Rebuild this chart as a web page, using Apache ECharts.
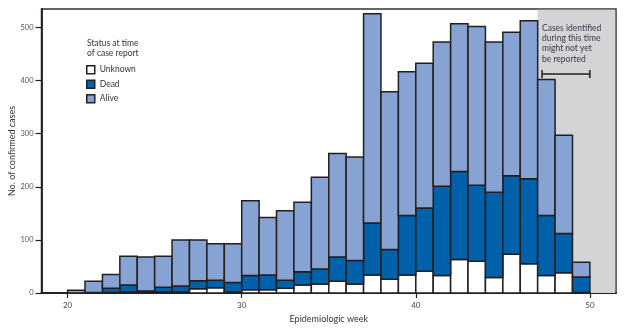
<!DOCTYPE html>
<html>
<head>
<meta charset="utf-8">
<script src="https://cdn.jsdelivr.net/npm/echarts@6/dist/echarts.min.js"></script>
<style>html,body{margin:0;padding:0;background:#fff}#c{width:635px;height:332px}</style>
</head>
<body>
<div id="c"></div>
<script>
// Epidemiologic weeks (each bar spans [week, week+1])
const weeks   = [20,21,22,23,24,25,26,27,28,29,30,31,32,33,34,35,36,37,38,39,40,41,42,43,44,45,46,47,48,49];
const unknown = [0, 0, 1, 2, 1, 2, 2, 8, 10, 2, 6, 6, 9, 15, 17, 22, 17, 34, 26, 34, 41, 33, 63, 60, 29, 73, 55, 33, 38, 1];
const dead    = [0, 1, 8, 13, 3, 9, 11, 15, 14, 18, 27, 28, 15, 25, 28, 46, 44, 98, 56, 112, 119, 168, 166, 143, 161, 148, 160, 113, 74, 29];
const alive   = [5, 21, 26, 54, 64, 58, 87, 77, 69, 73, 141, 108, 131, 131, 173, 195, 195, 394, 297, 271, 273, 272, 278, 299, 283, 270, 298, 256, 185, 28];
const xTicks  = [20, 30, 40, 50];
const yTicks  = [0, 100, 200, 300, 400, 500];
const shadeFrom = 47;      // cases might not yet be reported from this week
const bracketTo = 50;

const xMin = 18.5, xMax = 51.5, yMax = 535;
const ink = '#231f20';
const FONT = 'Lato';

function stackData(base, vals) {
  return weeks.map((w, i) => [w, base[i], base[i] + vals[i]]);
}
const base0 = weeks.map(() => 0);
const base1 = unknown.slice();
const base2 = unknown.map((u, i) => u + dead[i]);

function barRenderer(color) {
  return function (params, api) {
    const x = api.value(0), y0 = api.value(1), y1 = api.value(2);
    if (y1 <= y0) return null;
    const p0 = api.coord([x, y0]);
    const p1 = api.coord([x + 1, y1]);
    return {
      type: 'rect',
      shape: { x: p0[0], y: p1[1], width: p1[0] - p0[0], height: p0[1] - p1[1] },
      style: { fill: color, stroke: ink, lineWidth: 1.5 }
    };
  };
}

const chart = echarts.init(document.getElementById('c'), null, { renderer: 'canvas' });
chart.setOption({
  animation: false,
  textStyle: { fontFamily: FONT },
  grid: { left: 41.5, right: 19, top: 9, bottom: 39, containLabel: false, outerBoundsMode: 'none', show: true, borderColor: '#333', borderWidth: 1.5, backgroundColor: 'transparent' },
  legend: {
    orient: 'vertical', left: 86, top: 65, padding: 0,
    itemWidth: 8, itemHeight: 8, itemGap: 5,
    textStyle: { fontSize: 8.5, color: '#333', fontFamily: FONT },
    data: [
      { name: 'Unknown', icon: 'rect', itemStyle: { color: '#ffffff', borderColor: ink, borderWidth: 1.5 } },
      { name: 'Dead', icon: 'rect', itemStyle: { color: '#0061ab', borderColor: ink, borderWidth: 1.5 } },
      { name: 'Alive', icon: 'rect', itemStyle: { color: '#87a3d3', borderColor: ink, borderWidth: 1.5 } }
    ]
  },
  graphic: [{
    type: 'text', left: 87, top: 38,
    style: { text: 'Status at time\nof case report', font: '8.5px ' + FONT, fill: '#333', lineHeight: 10.3 }
  }],
  xAxis: {
    type: 'value', min: xMin, max: xMax,
    name: 'Epidemiologic week', nameLocation: 'middle', nameGap: 22, nameMoveOverlap: false,
    nameTextStyle: { fontSize: 9, color: '#333', fontFamily: FONT },
    axisLine: { show: true, onZero: false, lineStyle: { color: ink, width: 1.8 } },
    axisTick: { show: true, customValues: xTicks, length: 5, lineStyle: { color: ink, width: 1.2 } },
    axisLabel: { customValues: xTicks, fontSize: 8, color: '#444', margin: 8, fontFamily: FONT },
    splitLine: { show: false }
  },
  yAxis: {
    type: 'value', min: 0, max: yMax,
    name: 'No. of confirmed cases', nameLocation: 'middle', nameGap: 25, nameMoveOverlap: false,
    nameTextStyle: { fontSize: 9, color: '#333', fontFamily: FONT },
    axisLine: { show: true, lineStyle: { color: ink, width: 1.8 } },
    axisTick: { show: true, customValues: yTicks, length: 6, lineStyle: { color: ink, width: 1.2 } },
    axisLabel: { customValues: yTicks, fontSize: 7.5, color: '#555', margin: 8, fontFamily: FONT },
    splitLine: { show: false }
  },
  series: [
    {
      type: 'custom', name: 'shade', z: 1, silent: true,
      data: [[shadeFrom, xMax, bracketTo]],
      encode: { x: [0, 1] },
      renderItem: function (params, api) {
        const a = api.coord([api.value(0), yMax]);
        const b = api.coord([api.value(1), 0]);
        const bl = api.coord([api.value(0) + 0.25, 0])[0];
        const br = api.coord([api.value(2), 0])[0];
        const by = a[1] + 65;
        return {
          type: 'group',
          children: [
            { type: 'rect', shape: { x: a[0], y: a[1] + 0.8, width: b[0] - a[0] - 0.8, height: b[1] - a[1] - 0.8 }, style: { fill: '#d3d4d6' } },
            { type: 'text', x: bl, y: a[1] + 14, style: { text: 'Cases identified\nduring this time\nmight not yet\nbe reported', font: '8.5px ' + FONT, fill: '#3a3a4a', lineHeight: 10.3, verticalAlign: 'top' } },
            { type: 'line', shape: { x1: bl, y1: by, x2: br, y2: by }, style: { stroke: ink, lineWidth: 1.5 } },
            { type: 'line', shape: { x1: bl, y1: by - 4, x2: bl, y2: by + 4 }, style: { stroke: ink, lineWidth: 1.5 } },
            { type: 'line', shape: { x1: br, y1: by - 4, x2: br, y2: by + 4 }, style: { stroke: ink, lineWidth: 1.5 } }
          ]
        };
      }
    },
    { type: 'custom', name: 'Unknown', z: 3, data: stackData(base0, unknown), encode: { x: 0, y: [1, 2] }, itemStyle: { color: '#ffffff' }, renderItem: barRenderer('#ffffff') },
    { type: 'custom', name: 'Dead', z: 3, data: stackData(base1, dead), encode: { x: 0, y: [1, 2] }, itemStyle: { color: '#0061ab' }, renderItem: barRenderer('#0061ab') },
    { type: 'custom', name: 'Alive', z: 3, data: stackData(base2, alive), encode: { x: 0, y: [1, 2] }, itemStyle: { color: '#87a3d3' }, renderItem: barRenderer('#87a3d3') }
  ]
});
</script>
</body>
</html>
